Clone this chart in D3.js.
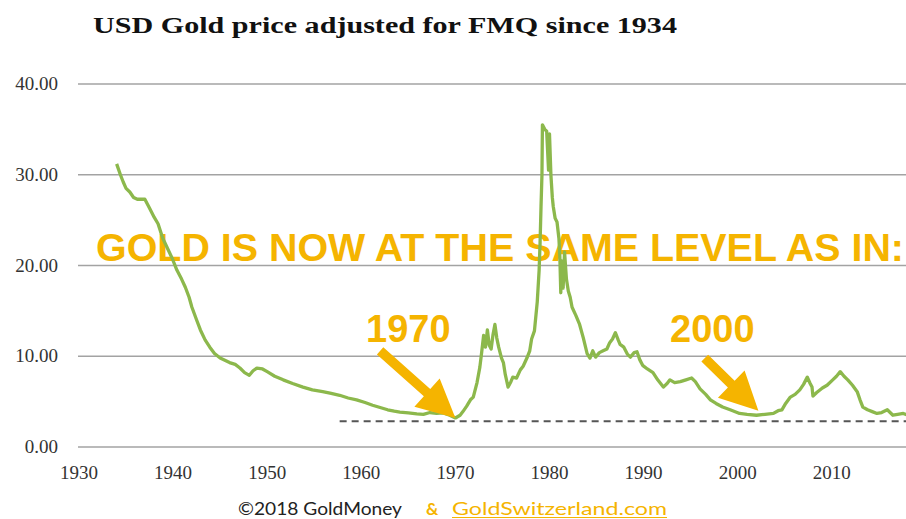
<!DOCTYPE html>
<html>
<head>
<meta charset="utf-8">
<script src="https://cdn.jsdelivr.net/npm/d3@7"></script>
<style>
  html, body { margin: 0; padding: 0; background: #fff; }
  svg { display: block; }
</style>
</head>
<body>
<svg id="chart" width="906" height="519"></svg>
<script>
// ---------- DATA ----------
const title = "USD Gold price adjusted for FMQ since 1934";
const yTicks = [0, 10, 20, 30, 40];
const xTicks = [1930, 1940, 1950, 1960, 1970, 1980, 1990, 2000, 2010];
const years = [
  1934.0,1934.4,1934.7,1935.0,1935.4,1935.8,1936.2,1937.0,1937.5,1938.0,1938.4,1938.9,1939.4,1939.9,
  1940.4,1940.9,1941.3,1941.7,1942.0,1942.5,1942.9,1943.4,1943.9,1944.4,1945.0,1946.0,1946.6,1947.1,
  1947.6,1948.1,1948.5,1948.9,1949.5,1950.0,1950.8,1951.7,1952.7,1953.8,1954.8,1955.9,1956.8,1957.7,
  1958.6,1959.5,1960.4,1961.2,1962.0,1962.8,1963.5,1964.1,1965.0,1965.9,1966.6,1967.3,1968.0,1968.7,
  1969.4,1970.0,1970.5,1970.8,1971.2,1971.6,1971.9,1972.3,1972.6,1972.8,1973.0,1973.2,1973.4,1973.6,
  1973.8,1974.0,1974.2,1974.4,1974.6,1974.9,1975.1,1975.3,1975.6,1975.9,1976.1,1976.5,1976.9,1977.2,
  1977.6,1977.9,1978.1,1978.4,1978.7,1978.9,1979.0,1979.1,1979.2,1979.25,1979.5,1979.7,1979.9,1980.0,
  1980.15,1980.3,1980.4,1980.6,1980.8,1981.0,1981.1,1981.2,1981.3,1981.45,1981.6,1981.8,1982.0,1982.2,
  1982.4,1982.8,1983.2,1983.6,1984.0,1984.3,1984.6,1984.9,1985.3,1985.7,1986.1,1986.4,1986.7,1987.0,
  1987.3,1987.5,1987.9,1988.3,1988.6,1989.0,1989.3,1989.6,1989.9,1990.4,1991.0,1991.5,1992.1,1992.5,
  1992.8,1993.3,1993.9,1994.5,1995.1,1995.5,1996.0,1996.6,1997.1,1997.7,1998.4,1999.2,2000.2,2001.0,
  2002.0,2002.9,2003.8,2004.3,2004.7,2005.1,2005.6,2006.1,2006.6,2007.0,2007.4,2007.7,2007.9,2008.0,
  2008.4,2009.0,2009.5,2010.1,2010.5,2010.9,2011.3,2011.7,2012.2,2012.7,2013.0,2013.3,2013.8,2014.3,
  2014.8,2015.3,2015.9,2016.2,2016.5,2017.0,2017.6,2018.1
];
const prices = [
  31.2,30.0,29.2,28.5,28.1,27.5,27.3,27.3,26.3,25.3,24.6,23.0,21.9,20.8,
  19.5,18.5,17.6,16.5,15.4,14.0,12.9,11.8,11.0,10.3,9.8,9.3,9.1,8.7,
  8.2,7.9,8.4,8.7,8.6,8.3,7.8,7.4,7.0,6.6,6.3,6.1,5.9,5.7,
  5.4,5.2,4.9,4.6,4.35,4.1,3.95,3.85,3.75,3.65,3.6,3.8,3.7,3.75,
  3.5,3.2,3.5,3.9,4.5,5.2,5.5,7.1,8.8,10.5,12.3,11.0,12.9,11.2,
  10.8,12.4,13.5,12.0,11.0,9.8,9.3,8.0,6.6,7.2,7.7,7.6,8.5,8.9,
  9.8,10.6,11.9,12.8,16.0,19.5,22.5,26.5,30.0,35.5,35.0,34.8,30.5,34.5,
  30.0,27.5,26.5,25.2,24.8,23.0,21.0,17.0,20.5,17.5,21.5,18.5,17.2,16.5,
  15.4,14.5,13.5,12.0,10.3,9.8,10.6,9.9,10.4,10.6,10.8,11.5,11.9,12.6,
  11.8,11.3,11.0,10.2,9.9,10.4,10.5,9.6,9.0,8.6,8.2,7.4,6.6,7.0,
  7.4,7.1,7.2,7.4,7.6,7.2,6.4,5.8,5.2,4.8,4.4,4.1,3.7,3.6,
  3.5,3.6,3.7,4.0,4.1,4.8,5.5,5.8,6.3,6.9,7.7,7.0,6.6,5.6,
  6.0,6.5,6.8,7.4,7.8,8.3,7.8,7.4,6.8,6.1,5.2,4.4,4.1,3.9,
  3.7,3.8,4.1,3.8,3.5,3.6,3.7,3.5
];
const dashedLevel = 2.85;
const dashedStartYear = 1957.7;
const headline = "GOLD IS NOW AT THE SAME LEVEL AS IN:";
const callouts = [
  { label: "1970", from: [1962.0, 10.6], to: [1970.0, 3.2] },
  { label: "2000", from: [1996.5, 9.8], to: [2002.2, 4.0] }
];
const footerLeft = "©2018 GoldMoney";
const footerAmp = "&";
const footerRight = "GoldSwitzerland.com";

// ---------- DRAW ----------
const W = 906, H = 519;
const orange = "#F5B400";
const green = "#8CB84C";
const svg = d3.select("#chart");

const x = d3.scaleLinear().domain([1930, 2018.1]).range([79, 908]);
const y = d3.scaleLinear().domain([0, 40]).range([447, 84]);

svg.append("defs").append("clipPath").attr("id", "clip")
  .append("rect").attr("x", 0).attr("y", 0).attr("width", W).attr("height", H);

// title
svg.append("text")
  .attr("x", 93).attr("y", 33)
  .attr("font-family", "'Liberation Serif', 'DejaVu Serif', serif")
  .attr("font-weight", "bold").attr("font-size", 23)
  .attr("fill", "#111")
  .attr("textLength", 584).attr("lengthAdjust", "spacingAndGlyphs")
  .text(title);

// gridlines
svg.append("g").selectAll("line").data(yTicks).join("line")
  .attr("x1", 78).attr("x2", W)
  .attr("y1", d => y(d)).attr("y2", d => y(d))
  .attr("stroke", "#a3a3a3").attr("stroke-width", 1.6);

// y labels
svg.append("g").selectAll("text").data(yTicks).join("text")
  .attr("x", 58).attr("y", d => y(d) + 6)
  .attr("text-anchor", "end")
  .attr("font-family", "'Liberation Serif', serif")
  .attr("font-size", 19).attr("fill", "#333")
  .text(d => d3.format(".2f")(d));

// x labels
svg.append("g").selectAll("text").data(xTicks).join("text")
  .attr("x", d => x(d)).attr("y", 479)
  .attr("text-anchor", "middle")
  .attr("font-family", "'Liberation Serif', serif")
  .attr("font-size", 19).attr("fill", "#333")
  .text(d => d);

// headline (drawn under the price line)
svg.append("text")
  .attr("x", 96).attr("y", 261)
  .attr("font-family", "'Liberation Sans', Arial, sans-serif")
  .attr("font-weight", "bold").attr("font-size", 38)
  .attr("fill", orange)
  .attr("textLength", 808).attr("lengthAdjust", "spacingAndGlyphs")
  .text(headline);

// dashed reference line
svg.append("line")
  .attr("x1", x(dashedStartYear)).attr("x2", W)
  .attr("y1", y(dashedLevel)).attr("y2", y(dashedLevel))
  .attr("stroke", "#555").attr("stroke-width", 2)
  .attr("stroke-dasharray", "7,5");

// price line
const series = years.map((yr, i) => ({ yr, v: prices[i] }));
svg.append("path")
  .datum(series)
  .attr("clip-path", "url(#clip)")
  .attr("fill", "none")
  .attr("stroke", green).attr("stroke-width", 3.3)
  .attr("stroke-linejoin", "round")
  .attr("d", d3.line().x(d => x(d.yr)).y(d => y(d.v)));

// callouts
callouts.forEach(c => {
  const x0 = x(c.from[0]), y0 = y(c.from[1]);
  const x1 = x(c.to[0]), y1 = y(c.to[1]);
  const dx = x1 - x0, dy = y1 - y0;
  const len = Math.hypot(dx, dy);
  const ux = dx / len, uy = dy / len;
  const px = -uy, py = ux;
  const headLen = 38, headW = 19, shaftW = 4.8;
  const bx = x1 - ux * headLen, by = y1 - uy * headLen;
  const pts = [
    [x0 + px * shaftW, y0 + py * shaftW],
    [bx + px * shaftW, by + py * shaftW],
    [bx + px * headW, by + py * headW],
    [x1, y1],
    [bx - px * headW, by - py * headW],
    [bx - px * shaftW, by - py * shaftW],
    [x0 - px * shaftW, y0 - py * shaftW]
  ];
  svg.append("path")
    .attr("d", "M" + pts.map(p => p.join(",")).join("L") + "Z")
    .attr("fill", orange);
});

svg.append("text").attr("x", 366).attr("y", 342)
  .attr("font-family", "'Liberation Sans', Arial, sans-serif")
  .attr("font-weight", "bold").attr("font-size", 38).attr("fill", orange)
  .text(callouts[0].label);
svg.append("text").attr("x", 670).attr("y", 342)
  .attr("font-family", "'Liberation Sans', Arial, sans-serif")
  .attr("font-weight", "bold").attr("font-size", 38).attr("fill", orange)
  .text(callouts[1].label);

// footer
const ff = "Lato, 'Open Sans', sans-serif";
svg.append("text").attr("x", 238).attr("y", 515)
  .attr("font-family", ff).attr("font-size", 17).attr("fill", "#222")
  .attr("textLength", 164).attr("lengthAdjust", "spacingAndGlyphs")
  .text(footerLeft);
svg.append("text").attr("x", 426).attr("y", 515)
  .attr("font-family", ff).attr("font-size", 17).attr("font-weight", "bold").attr("fill", orange)
  .text(footerAmp);
svg.append("text").attr("x", 452).attr("y", 515)
  .attr("font-family", ff).attr("font-size", 17).attr("fill", orange)
  .attr("textLength", 215).attr("lengthAdjust", "spacingAndGlyphs")
  .text(footerRight);
svg.append("line").attr("x1", 452).attr("x2", 667).attr("y1", 517.5).attr("y2", 517.5)
  .attr("stroke", orange).attr("stroke-width", 1.2);
</script>
</body>
</html>
